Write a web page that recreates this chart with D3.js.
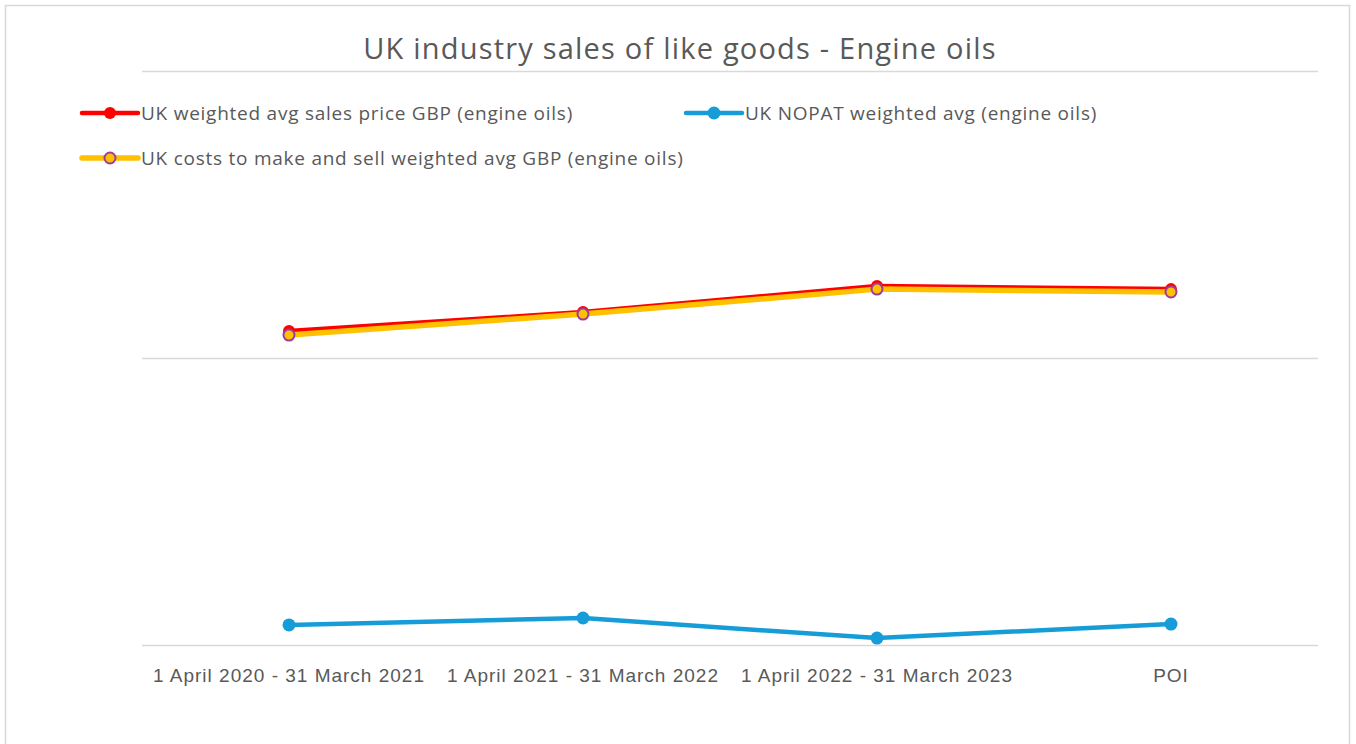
<!DOCTYPE html>
<html>
<head>
<meta charset="utf-8">
<script src="https://cdn.jsdelivr.net/npm/d3@7"></script>
<style>
  body { margin: 0; background: #fff; }
  svg { display: block; font-family: "Open Sans", "Noto Sans", sans-serif; }
</style>
</head>
<body>
<div id="chart"></div>
<script>
// periods on the x axis
var periods = ['1 April 2020 - 31 March 2021', '1 April 2021 - 31 March 2022', '1 April 2022 - 31 March 2023', 'POI'];

// series values (indexed)
var salesPrice = [1.094, 1.160, 1.251, 1.240];
var nopat = [0.070, 0.094, 0.024, 0.073];
var costs = [1.080, 1.153, 1.240, 1.230];

var yTicks = [0, 1, 2];

var width = 1356, height = 744;
var margin = { top: 71, right: 38, bottom: 99, left: 142 };
var w = width - margin.left - margin.right;
var h = height - margin.top - margin.bottom;

var svg = d3.select('#chart')
  .append('svg')
  .attr('width', width)
  .attr('height', height);

// chart area border
svg.append('rect')
  .attr('x', 5.5).attr('y', 5.5)
  .attr('width', 1344).attr('height', 760)
  .attr('fill', 'none')
  .attr('stroke', '#d9d9d9')
  .attr('stroke-width', 1.5);

var g = svg.append('g')
  .attr('transform', 'translate(' + margin.left + ',' + margin.top + ')');

var x = d3.scaleBand().domain(periods).range([0, w]);
var y = d3.scaleLinear().domain([0, 2]).range([h, 0]);

// gridlines
g.append('g')
  .call(d3.axisLeft(y).tickValues(yTicks).tickSize(-w).tickFormat(''))
  .call(function(a) {
    a.select('.domain').remove();
    a.selectAll('line').attr('stroke', '#d9d9d9').attr('stroke-width', 1.5);
  });

// x axis labels
g.append('g')
  .attr('transform', 'translate(0,' + h + ')')
  .call(d3.axisBottom(x).tickSize(0).tickPadding(24))
  .call(function(a) {
    a.select('.domain').remove();
    a.selectAll('text')
      .attr('fill', '#595959')
      .style('font-size', '19px')
      .style('letter-spacing', '1px');
  });

var cx = function(d, i) { return x(periods[i]) + x.bandwidth() / 2; };
var line = d3.line().x(function(d, i) { return cx(d, i); }).y(function(d) { return y(d); });

var series = [
  { name: 'UK weighted avg sales price GBP (engine oils)', values: salesPrice, color: '#ff0000', lw: 4.5, r: 6, fill: '#ff0000', stroke: '#ff0000', sw: 0 },
  { name: 'UK NOPAT weighted avg (engine oils)', values: nopat, color: '#169dd8', lw: 4.5, r: 6.5, fill: '#169dd8', stroke: '#169dd8', sw: 0 },
  { name: 'UK costs to make and sell weighted avg GBP (engine oils)', values: costs, color: '#ffc000', lw: 5.5, r: 5.5, fill: '#ffc000', stroke: '#9b3d9e', sw: 2 }
];

series.forEach(function(s) {
  g.append('path')
    .datum(s.values)
    .attr('fill', 'none')
    .attr('stroke', s.color)
    .attr('stroke-width', s.lw)
    .attr('stroke-linejoin', 'round')
    .attr('d', line);
  g.selectAll(null)
    .data(s.values)
    .enter()
    .append('circle')
    .attr('cx', cx)
    .attr('cy', function(d) { return y(d); })
    .attr('r', s.r)
    .attr('fill', s.fill)
    .attr('stroke', s.stroke)
    .attr('stroke-width', s.sw);
});

// title
svg.append('text')
  .attr('x', 680)
  .attr('y', 59)
  .attr('text-anchor', 'middle')
  .attr('fill', '#595959')
  .style('font-size', '29px')
  .style('letter-spacing', '1.2px')
  .text('UK industry sales of like goods - Engine oils');

// legend
var legendPos = [[82, 113], [686, 113], [82, 158]];
series.forEach(function(s, i) {
  var lg = svg.append('g').attr('transform', 'translate(' + legendPos[i][0] + ',' + legendPos[i][1] + ')');
  lg.append('line')
    .attr('x1', 0).attr('x2', 56)
    .attr('stroke', s.color)
    .attr('stroke-width', s.lw)
    .attr('stroke-linecap', 'round');
  lg.append('circle')
    .attr('cx', 28)
    .attr('r', s.r)
    .attr('fill', s.fill)
    .attr('stroke', s.stroke)
    .attr('stroke-width', s.sw);
  lg.append('text')
    .attr('x', 59)
    .attr('dy', '0.35em')
    .attr('fill', '#595959')
    .style('font-size', '19px')
    .style('letter-spacing', '0.75px')
    .text(s.name);
});
</script>
</body>
</html>
